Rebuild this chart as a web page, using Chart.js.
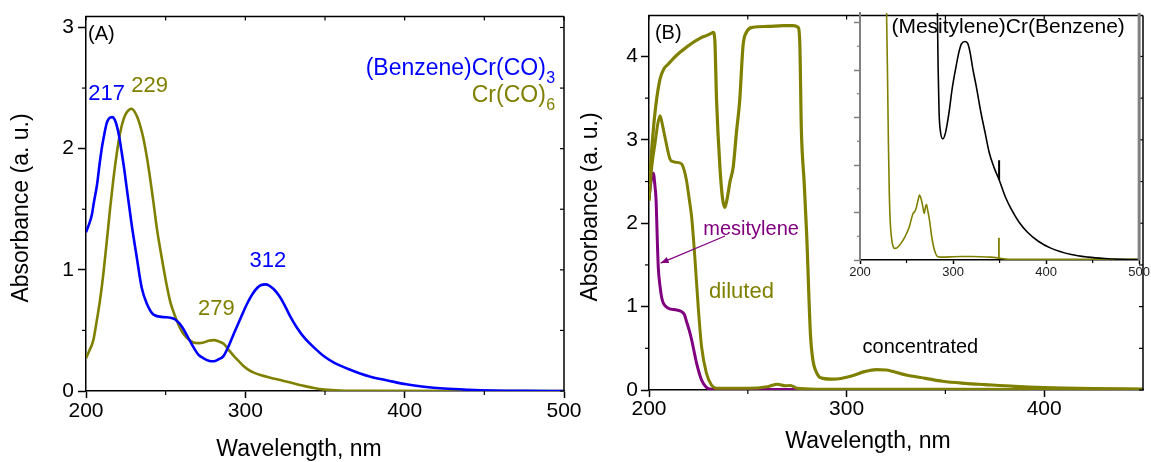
<!DOCTYPE html>
<html><head><meta charset="utf-8">
<script src="https://cdn.jsdelivr.net/npm/chart.js@4/dist/chart.umd.min.js"></script>
<style>
html,body{margin:0;padding:0;background:#fff;width:1151px;height:462px;overflow:hidden;position:relative}
canvas{position:absolute;top:0}
#ca{left:0}
#cb{left:580px}
#ci{left:840px}
</style></head><body>
<canvas id="ca" width="600" height="462"></canvas>
<canvas id="cb" width="571" height="462"></canvas>
<canvas id="ci" width="311" height="300"></canvas>
<script>
// ---------- Panel A data ----------
const benzWl = [200,202,203.6,205,206.9,208.5,210.1,211.5,213,214.5,216.5,218,219.3,220.8,222.4,224,225.6,228.7,231.9,235,238.2,242.4,248.6,253,256,258.5,261.2,264.5,267.5,270.5,273.8,277,280.1,283,286.4,289.5,292.7,297,301.1,304.5,307.4,310,312.6,315,317.9,321,324.2,328,332.5,337,343,350,355.6,365,378,390,401,412,424.6,440,455,475,500];
const benzAbs = [1.31,1.38,1.45,1.56,1.70,1.87,2.02,2.12,2.21,2.25,2.26,2.24,2.19,2.10,1.97,1.83,1.67,1.37,1.10,0.85,0.72,0.63,0.61,0.605,0.59,0.56,0.51,0.43,0.36,0.30,0.27,0.25,0.245,0.26,0.29,0.37,0.47,0.60,0.72,0.80,0.85,0.875,0.88,0.87,0.84,0.79,0.72,0.62,0.52,0.44,0.36,0.28,0.235,0.18,0.12,0.085,0.055,0.035,0.02,0.01,0.004,0.001,0];
const cr6Wl = [200,202,204.6,206.5,208.8,211,213,215,217.2,219.3,221.4,223.5,225.6,228.7,231.9,234,236.1,238.2,240.3,242.4,244.5,246.6,248.6,250.7,252.8,255,257,259,261.2,264.5,267.5,270.5,273.8,277,280.1,283.2,286.4,289.5,292.7,296,299,302,305.3,310,315.7,322,328.3,335,343,350,359.7,380,500];
const cr6Abs = [0.27,0.33,0.42,0.56,0.75,0.98,1.23,1.49,1.75,1.96,2.13,2.24,2.30,2.33,2.27,2.19,2.08,1.93,1.75,1.55,1.34,1.17,1.02,0.87,0.74,0.65,0.58,0.52,0.47,0.425,0.40,0.395,0.40,0.415,0.42,0.41,0.39,0.34,0.29,0.245,0.205,0.175,0.152,0.13,0.11,0.09,0.07,0.048,0.024,0.011,0.004,0.001,0];
const aXTicks = [200,300,400,500], aXMinor = [250,350,450];
const aYTicks = [0,1,2,3], aYMinor = [0.5,1.5,2.5];

// ---------- Panel B data ----------
const concWl = [200,201,202,203.5,205.6,207.5,209.8,212.5,215.7,219,222.4,226,229,231.7,232.5,233.3,234.2,235.9,237.2,238.4,239.6,241,242.6,244.3,245.9,247.6,249.3,252.7,260,268,272.9,275.4,276.3,277.1,278.5,279.8,281.7,283,284.4,286,288,293.6,302.8,309,315,320,330,340,348.6,360,370,385,400,425,450];
const concAbs = [2.27,2.75,3.07,3.42,3.73,3.85,3.91,3.98,4.05,4.11,4.17,4.22,4.25,4.28,4.29,4.2,3.47,2.67,2.3,2.19,2.3,2.5,2.67,3.1,3.47,4.13,4.29,4.35,4.36,4.37,4.37,4.35,4.17,3.13,2.5,1.86,0.67,0.35,0.23,0.16,0.14,0.13,0.17,0.22,0.245,0.24,0.18,0.14,0.105,0.08,0.065,0.044,0.03,0.018,0.012];
const dilWl = [200,201.5,203,204.5,205.6,206.8,208.1,210.6,212,214,216.5,218,219,220.3,221.6,223.2,224.9,226.6,229.1,231.6,234.2,250,260,265,269,271.6,275,285,350,450];
const dilAbs = [2.27,2.7,2.95,3.2,3.29,3.18,3.03,2.77,2.74,2.73,2.71,2.62,2.51,2.3,2.07,1.59,1.0,0.52,0.2,0.06,0.02,0.02,0.04,0.07,0.05,0.055,0.02,0.01,0.008,0.005];
const mesWl = [200,201,202.2,203,203.6,204.2,204.7,205.6,206.5,207.3,209.8,214,216.5,218,219,220.3,221.6,224.1,226.6,229.1,231.6,240,300,450];
const mesAbs = [2.3,2.5,2.6,2.45,2.27,1.8,1.47,1.24,1.1,1.04,0.98,0.96,0.94,0.9,0.82,0.72,0.6,0.32,0.12,0.03,0.01,0.005,0.005,0.003];
const bXTicks = [200,300,400], bXMinor = [250,350];
const bYTicks = [0,1,2,3,4], bYMinor = [0.5,1.5,2.5,3.5];

// ---------- Inset data ----------
const inBlkWl = [282.8,283.3,284,285,286.5,289,291.5,294,296,299,303,306,309,313,316,318.5,321,325,330,334.5,338.7,344,349.5,356.6,363,370.8,380,392,405,427,445,463,480,500];
const inBlkAbs = [1.2,1.0,0.8,0.62,0.54,0.51,0.53,0.58,0.63,0.72,0.81,0.87,0.91,0.92,0.91,0.87,0.81,0.73,0.62,0.535,0.455,0.39,0.338,0.262,0.211,0.16,0.117,0.078,0.05,0.023,0.012,0.006,0.003,0.002];
const inBlkSpikeWl = [349.5,349.5], inBlkSpikeAbs = [0.338,0.42];
const inOlWl = [228.3,229.5,230.5,231.5,232.5,234,235.5,237.4,240,244,248,250,253,257,259,260.5,262,264,265.5,267.5,269,270.5,271.5,272.5,274.7,277,280,283.6,290,300,310,320,330,340,345.9,349.3,360,500];
const inOlAbs = [1.1,0.8,0.5,0.28,0.16,0.09,0.058,0.049,0.052,0.07,0.095,0.112,0.14,0.196,0.205,0.22,0.245,0.273,0.26,0.225,0.196,0.225,0.235,0.215,0.168,0.1,0.042,0.014,0.012,0.014,0.015,0.015,0.014,0.012,0.01,0.008,0.003,0.003];
const inOlSpikeWl = [349.3,349.3], inOlSpikeAbs = [0.008,0.094];
const iXTicks = [200,300,400,500], iXMinor = [250,350,450];
const iYTicks = [0,0.2,0.4,0.6,0.8,1.0], iYMinor = [0.1,0.3,0.5,0.7,0.9];

// ---------- styling ----------
const FONT = "'Liberation Sans', Arial, Helvetica, sans-serif";
Chart.defaults.font.family = FONT;
Chart.defaults.color = '#000';
const BLUE = '#0000ff', OLIVE = '#808000', PURPLE = '#800080', BLACK = '#000000', GRAY = '#808080';

function pts(xs, ys){ return xs.map((x,i)=>({x:x, y:ys[i]})); }
function lineDs(label, xs, ys, color, w, straight){
  return {label, data: pts(xs,ys), borderColor: color, backgroundColor: color, borderWidth: w,
    pointRadius: 0, fill: false, tension: 0,
    cubicInterpolationMode: straight ? 'default' : 'monotone', borderJoinStyle: 'round'};
}
function axis(o){
  return {
    type: 'linear', min: o.min, max: o.max,
    afterBuildTicks: s => { s.ticks = o.ticks.map(v => ({value: v})); },
    afterFit: s => { if (o.horizontal) s.height = o.size; else s.width = o.size; },
    grid: {display: true, drawOnChartArea: false, drawTicks: true, tickLength: o.tickLen,
           tickColor: o.color || BLACK, tickWidth: 1.5},
    border: {display: true, color: o.color || BLACK, width: o.bw || 1.5},
    ticks: {display: o.labels !== false, font: {size: o.font}, padding: o.pad, color: o.labelColor || '#000',
            maxRotation: 0, autoSkip: false, callback: v => String(v)},
    title: {display: false}
  };
}
function decor(cfg){
  return {id: 'decor', afterDraw(chart){
    const ctx = chart.ctx, a = chart.chartArea, xs = chart.scales.x, ys = chart.scales.y;
    ctx.save();
    const line = (x1,y1,x2,y2,c,w) => { ctx.strokeStyle=c; ctx.lineWidth=w; ctx.beginPath(); ctx.moveTo(x1,y1); ctx.lineTo(x2,y2); ctx.stroke(); };
    if (cfg.frame){
      line(a.left-0.75, a.top, a.right, a.top, BLACK, 1.5);
      line(a.right, a.top, a.right, a.bottom, BLACK, 1.5);
      cfg.xAll.forEach(v => { const p = xs.getPixelForValue(v); line(p, a.top, p, a.top + 4, BLACK, 1.2); });
      cfg.yAll.forEach(v => { const p = ys.getPixelForValue(v); line(a.right, p, a.right - 4, p, BLACK, 1.2); });
    }
    if (cfg.rightBorder){ line(a.right, a.top, a.right, a.bottom, cfg.rightBorder.c, cfg.rightBorder.w); }
    cfg.xMinor.forEach(v => { const p = xs.getPixelForValue(v); line(p, a.bottom, p, a.bottom + cfg.minorLen, cfg.xColor || BLACK, 1.2); });
    cfg.yMinor.forEach(v => { const p = ys.getPixelForValue(v); line(a.left, p, a.left - cfg.minorLen, p, cfg.yColor || BLACK, 1.2); });
    (cfg.arrows || []).forEach(r => {
      const x1 = xs.getPixelForValue(r.x1), y1 = ys.getPixelForValue(r.y1);
      const x2 = xs.getPixelForValue(r.x2), y2 = ys.getPixelForValue(r.y2);
      line(x1, y1, x2, y2, r.c, 1.2);
      const ang = Math.atan2(y2 - y1, x2 - x1), L = 8, W = 3.2;
      ctx.fillStyle = r.c; ctx.beginPath();
      ctx.moveTo(x2, y2);
      ctx.lineTo(x2 - L*Math.cos(ang) + W*Math.sin(ang), y2 - L*Math.sin(ang) - W*Math.cos(ang));
      ctx.lineTo(x2 - L*Math.cos(ang) - W*Math.sin(ang), y2 - L*Math.sin(ang) + W*Math.cos(ang));
      ctx.closePath(); ctx.fill();
    });
    (cfg.texts || []).forEach(t => {
      const px = xs.getPixelForValue(t.x), py = ys.getPixelForValue(t.y);
      ctx.fillStyle = t.c; ctx.font = t.size + 'px ' + FONT;
      ctx.textBaseline = t.base || 'middle';
      if (t.sub){
        const subFont = Math.round(t.size*0.68) + 'px ' + FONT;
        ctx.font = subFont; const sw = ctx.measureText(t.sub).width;
        ctx.textAlign = 'left'; ctx.fillText(t.sub, px - sw, py + 8);
        ctx.font = t.size + 'px ' + FONT; ctx.textAlign = 'right';
        ctx.fillText(t.t, px - sw - 0.5, py);
      } else {
        ctx.textAlign = t.align || 'center';
        ctx.fillText(t.t, px, py);
      }
    });
    (cfg.titles || []).forEach(t => {
      ctx.save(); ctx.translate(t.x, t.y); if (t.rot) ctx.rotate(-Math.PI/2);
      ctx.fillStyle = '#000'; ctx.font = t.size + 'px ' + FONT;
      ctx.textAlign = 'center'; ctx.textBaseline = 'middle';
      ctx.fillText(t.t, 0, 0); ctx.restore();
    });
    ctx.restore();
  }};
}
const base = {responsive: false, animation: false, devicePixelRatio: 1,
  plugins: {legend: {display: false}, tooltip: {enabled: false}}};

// ---------- Panel A ----------
new Chart(document.getElementById('ca'), {
  type: 'line',
  data: {datasets: [
    lineDs('(Benzene)Cr(CO)3', benzWl, benzAbs, BLUE, 2.6),
    lineDs('Cr(CO)6', cr6Wl, cr6Abs, OLIVE, 2.6)
  ]},
  options: Object.assign({}, base, {
    layout: {padding: {left: 0, top: 13, right: 36, bottom: 0}},
    scales: {
      x: axis({min: 200, max: 500, ticks: aXTicks, horizontal: true, size: 71, tickLen: 7, font: 21, pad: 1}),
      y: axis({min: 0, max: 3.09, ticks: aYTicks, horizontal: false, size: 86, tickLen: 8, font: 21, pad: 4})
    }
  }),
  plugins: [decor({
    frame: true, xAll: aXTicks.concat(aXMinor), yAll: aYTicks.concat(aYMinor),
    xMinor: aXMinor, yMinor: aYMinor, minorLen: 4,
    texts: [
      {t: '(A)', x: 201.3, y: 2.94, c: BLACK, size: 20, align: 'left'},
      {t: '217', x: 213.0, y: 2.45, c: BLUE, size: 22},
      {t: '229', x: 239.9, y: 2.516, c: OLIVE, size: 22},
      {t: '312', x: 314.1, y: 1.071, c: BLUE, size: 22},
      {t: '279', x: 281.8, y: 0.676, c: OLIVE, size: 22},
      {t: '(Benzene)Cr(CO)', sub: '3', x: 494.5, y: 2.608, c: BLUE, size: 23, base: 'alphabetic'},
      {t: 'Cr(CO)', sub: '6', x: 494.5, y: 2.388, c: OLIVE, size: 23, base: 'alphabetic'}
    ],
    titles: [
      {t: 'Absorbance (a. u.)', x: 22, y: 208, rot: true, size: 23},
      {t: 'Wavelength, nm', x: 299, y: 450, size: 23}
    ]
  })]
});

// ---------- Panel B ----------
new Chart(document.getElementById('cb'), {
  type: 'line',
  data: {datasets: [
    lineDs('concentrated', concWl, concAbs, OLIVE, 3.2),
    lineDs('diluted', dilWl, dilAbs, OLIVE, 3),
    lineDs('mesitylene', mesWl, mesAbs, PURPLE, 3)
  ]},
  options: Object.assign({}, base, {
    layout: {padding: {left: 0, top: 13, right: 8, bottom: 0}},
    scales: {
      x: axis({min: 200, max: 450, ticks: bXTicks, horizontal: true, size: 72, tickLen: 7, font: 21, pad: 0}),
      y: axis({min: 0, max: 4.49, ticks: bYTicks, horizontal: false, size: 69, tickLen: 8, font: 21, pad: 3})
    }
  }),
  plugins: [decor({
    frame: true, xAll: bXTicks.concat(bXMinor), yAll: bYTicks.concat(bYMinor),
    xMinor: bXMinor, yMinor: bYMinor, minorLen: 4,
    arrows: [{x1: 238.5, y1: 1.847, x2: 205.9, y2: 1.522, c: PURPLE}],
    texts: [
      {t: '(B)', x: 203.0, y: 4.27, c: BLACK, size: 20, align: 'left'},
      {t: 'mesitylene', x: 227.5, y: 1.859, c: PURPLE, size: 20, align: 'left', base: 'alphabetic'},
      {t: 'diluted', x: 230.4, y: 1.108, c: OLIVE, size: 22, align: 'left', base: 'alphabetic'},
      {t: 'concentrated', x: 308.1, y: 0.445, c: BLACK, size: 20, align: 'left', base: 'alphabetic'}
    ],
    titles: [
      {t: 'Absorbance (a. u.)', x: 11, y: 207, rot: true, size: 23},
      {t: 'Wavelength, nm', x: 288, y: 442, size: 23}
    ]
  })]
});

// ---------- Inset ----------
new Chart(document.getElementById('ci'), {
  type: 'line',
  data: {datasets: [
    lineDs('(Mesitylene)Cr(Benzene)', inBlkWl, inBlkAbs, BLACK, 1.6),
    lineDs('spike', inBlkSpikeWl, inBlkSpikeAbs, BLACK, 2, true),
    lineDs('diluted inset', inOlWl, inOlAbs, OLIVE, 1.6),
    lineDs('spike2', inOlSpikeWl, inOlSpikeAbs, OLIVE, 1.8, true)
  ]},
  options: Object.assign({}, base, {
    layout: {padding: {left: 0, top: 13, right: 10, bottom: 0}},
    scales: {
      x: axis({min: 200, max: 500, ticks: iXTicks, horizontal: true, size: 40, tickLen: 4, font: 13, pad: 1, labelColor: '#222'}),
      y: axis({min: 0, max: 1.04, ticks: iYTicks, horizontal: false, size: 20, tickLen: 6, font: 13, pad: 2, labels: false, color: GRAY, bw: 2})
    }
  }),
  plugins: [decor({
    frame: false, rightBorder: {c: GRAY, w: 3},
    xMinor: iXMinor, yMinor: iYMinor, minorLen: 3, yColor: GRAY,
    texts: [
      {t: '(Mesitylene)Cr(Benzene)', x: 233.8, y: 0.954, c: BLACK, size: 21, align: 'left', base: 'alphabetic'}
    ]
  })]
});
</script>
</body></html>
